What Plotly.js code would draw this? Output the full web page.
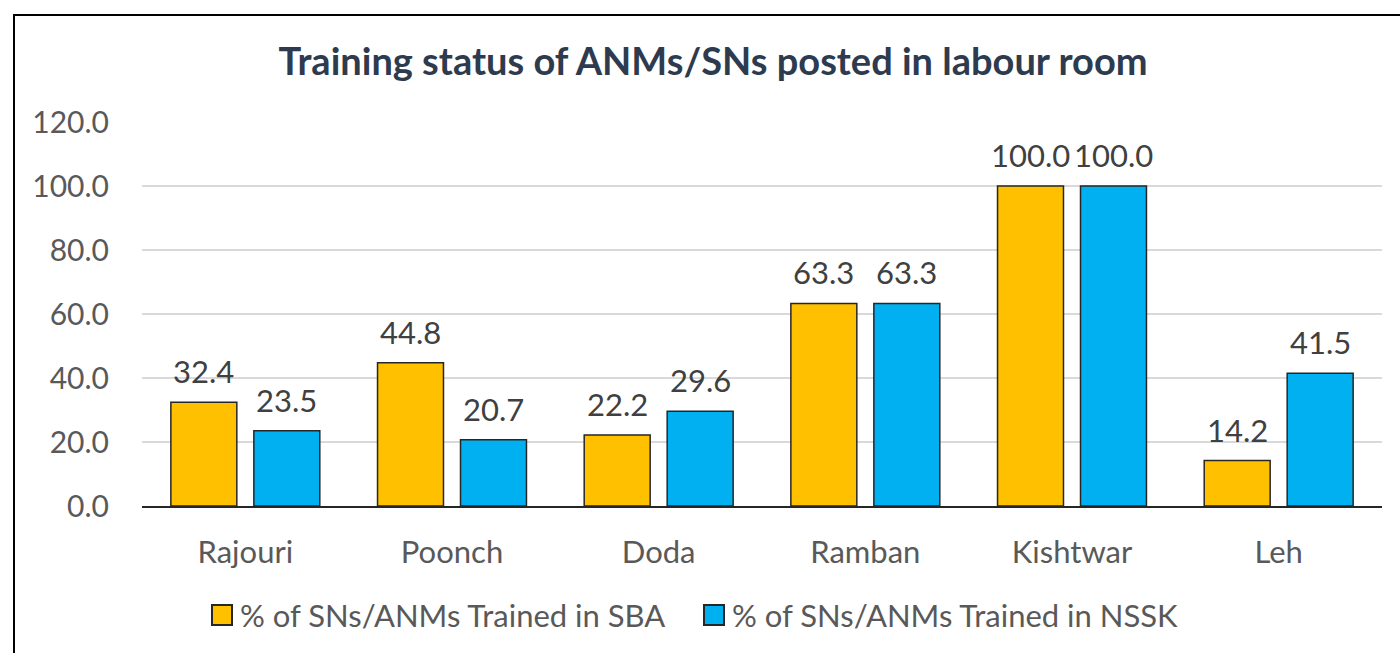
<!DOCTYPE html>
<html>
<head>
<meta charset="utf-8">
<script src="https://cdn.plot.ly/plotly-3.0.1.min.js"></script>
<style>
html,body{margin:0;padding:0;background:#fff;overflow:hidden;}
#frame{position:absolute;left:13px;top:14px;width:1400px;height:660px;border:2px solid #000;box-sizing:border-box;}
#chart{position:absolute;left:0;top:0;width:1400px;height:653px;}
</style>
</head>
<body>
<div id="frame"></div>
<div id="chart"></div>
<script>
const districts = ["Rajouri", "Poonch", "Doda", "Ramban", "Kishtwar", "Leh"];
const sbaValues = [32.4, 44.8, 22.2, 63.3, 100.0, 14.2];
const nsskValues = [23.5, 20.7, 29.6, 63.3, 100.0, 41.5];
const seriesNames = ["% of SNs/ANMs Trained in SBA", "% of SNs/ANMs Trained in NSSK"];
const seriesColors = ["#FFC000", "#00B0F0"];
const yTicks = [0, 20, 40, 60, 80, 100, 120];

const FONT = "Lato, 'Open Sans', sans-serif";
const BARGAP = 0.197, GROUPGAP = 0.205;
const W = 1400, H = 653, ML = 142, MR = 18, MT = 122, MB = 147;
const traces = [sbaValues, nsskValues].map((vals, s) => ({
  type: "bar", x: districts, y: vals, name: seriesNames[s], hoverinfo: "x+y",
  showlegend: false,
  marker: {color: seriesColors[s], line: {color: "#262626", width: 1.5}}
}));

// data labels placed above each bar, centred on its group slot
const slot = (1 - BARGAP) / 2;
const annotations = [];
[sbaValues, nsskValues].forEach((vals, s) => {
  vals.forEach((v, i) => {
    annotations.push({
      x: i + (s === 0 ? -slot / 2 : slot / 2), y: v, xref: "x", yref: "y",
      text: v.toFixed(1), showarrow: false, yanchor: "bottom", yshift: 10,
      font: {family: FONT, size: 31, color: "#404040"}
    });
  });
});

// legend drawn as squares + labels (pixel positions converted to paper coords)
const px = v => (v - ML) / (W - ML - MR);
const py = v => (H - MB - v) / (H - MT - MB);
const legendX = [212, 704], legendY = 615, sq = 20;
const shapes = [];
seriesNames.forEach((nm, s) => {
  shapes.push({type: "rect", xref: "paper", yref: "paper",
    x0: px(legendX[s]), x1: px(legendX[s] + sq),
    y0: py(legendY - sq / 2), y1: py(legendY + sq / 2),
    fillcolor: seriesColors[s], line: {color: "#262626", width: 2}});
  annotations.push({xref: "paper", yref: "paper", x: px(legendX[s] + sq + 6), y: py(legendY),
    xanchor: "left", yanchor: "middle", showarrow: false, text: nm,
    font: {family: FONT, size: 31, color: "#595959"}});
});

const layout = {
  width: W, height: H,
  paper_bgcolor: "rgba(0,0,0,0)",
  plot_bgcolor: "rgba(0,0,0,0)",
  margin: {l: ML, r: MR, t: MT, b: MB, pad: 0},
  title: {text: "<b>Training status of ANMs/SNs posted in labour room</b>",
    font: {family: FONT, size: 38, color: "#2E3B4E"},
    x: 713/W, xref: "container", xanchor: "center",
    y: 1 - 62/H, yref: "container", yanchor: "middle"},
  barmode: "group",
  bargap: BARGAP,
  bargroupgap: GROUPGAP,
  xaxis: {
    showgrid: false, showline: true, linecolor: "#262626", linewidth: 1.5,
    ticks: "", tickfont: {family: FONT, size: 31, color: "#595959"},
    ticklabelstandoff: 18
  },
  yaxis: {
    range: [0, 120], tickvals: yTicks, tickformat: ".1f",
    showgrid: true, gridcolor: "#D9D9D9", gridwidth: 1.5,
    zeroline: false, showline: false, ticks: "",
    tickfont: {family: FONT, size: 30, color: "#595959"},
    ticklabelstandoff: 32
  },
  annotations: annotations,
  shapes: shapes,
  showlegend: false
};

Plotly.newPlot("chart", traces, layout, {displayModeBar: false, staticPlot: true});
</script>
</body>
</html>
